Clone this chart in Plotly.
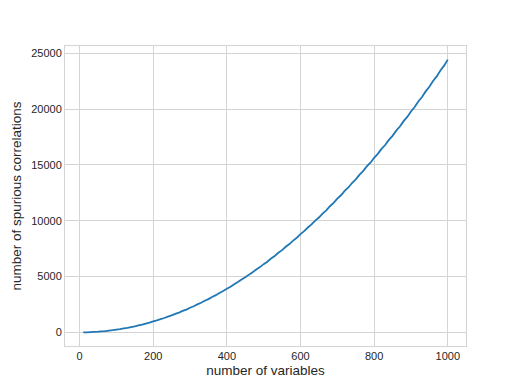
import plotly.graph_objects as go

n_vars = list(range(10, 1001, 10))
spurious = [2, 9, 21, 40, 60, 89, 118, 157, 197, 246,
            293, 353, 410, 480, 547, 628, 702, 793, 878, 980,
            1072, 1186, 1287, 1410, 1520, 1655, 1772, 1920, 2045, 2203,
            2338, 2507, 2650, 2830, 2980, 3170, 3332, 3531, 3702, 3912,
            4094, 4312, 4503, 4733, 4930, 5172, 5381, 5633, 5845, 6112,
            6333, 6610, 6840, 7128, 7366, 7665, 7910, 8222, 8478, 8798,
            9062, 9393, 9666, 10010, 10290, 10645, 10932, 11300, 11595, 11975,
            12280, 12668, 12980, 13380, 13700, 14112, 14442, 14865, 15200, 15640,
            15985, 16430, 16780, 17240, 17600, 18070, 18440, 18920, 19300, 19790,
            20180, 20680, 21080, 21585, 21995, 22510, 22930, 23455, 23890, 24430]

x_ticks = [0, 200, 400, 600, 800, 1000]
y_ticks = [0, 5000, 10000, 15000, 20000, 25000]

fig = go.Figure()
fig.add_trace(go.Scatter(x=n_vars, y=spurious, mode="lines",
                         line=dict(color="#1f77b4", width=1.8, simplify=False)))

axis_common = dict(showgrid=True, gridcolor="#d4d4d4", gridwidth=1,
                   zeroline=False, showline=True, linecolor="#d4d4d4", linewidth=1,
                   mirror=True, ticks="", automargin=False, tickformat="d",
                   tickfont=dict(size=11, color="#262626",
                                 family="Liberation Sans, Arial, sans-serif"))

# page body has an 8px default margin, so the figure is sized to fit inside it
fig.update_layout(
    width=510, height=381,
    margin=dict(l=57, r=52, t=38, b=43),
    paper_bgcolor="white", plot_bgcolor="white",
    showlegend=False,
    font=dict(family="Liberation Sans, Arial, sans-serif", color="#262626"),
    xaxis=dict(range=[-39.5, 1049.5], tickvals=x_ticks,
               title=dict(text="number of variables", font=dict(size=13.5), standoff=4),
               **axis_common),
    yaxis=dict(range=[-1220, 25650], tickvals=y_ticks,
               title=dict(text="number of spurious correlations", font=dict(size=13.5), standoff=6),
               **axis_common),
)

fig.write_html("out.html")
